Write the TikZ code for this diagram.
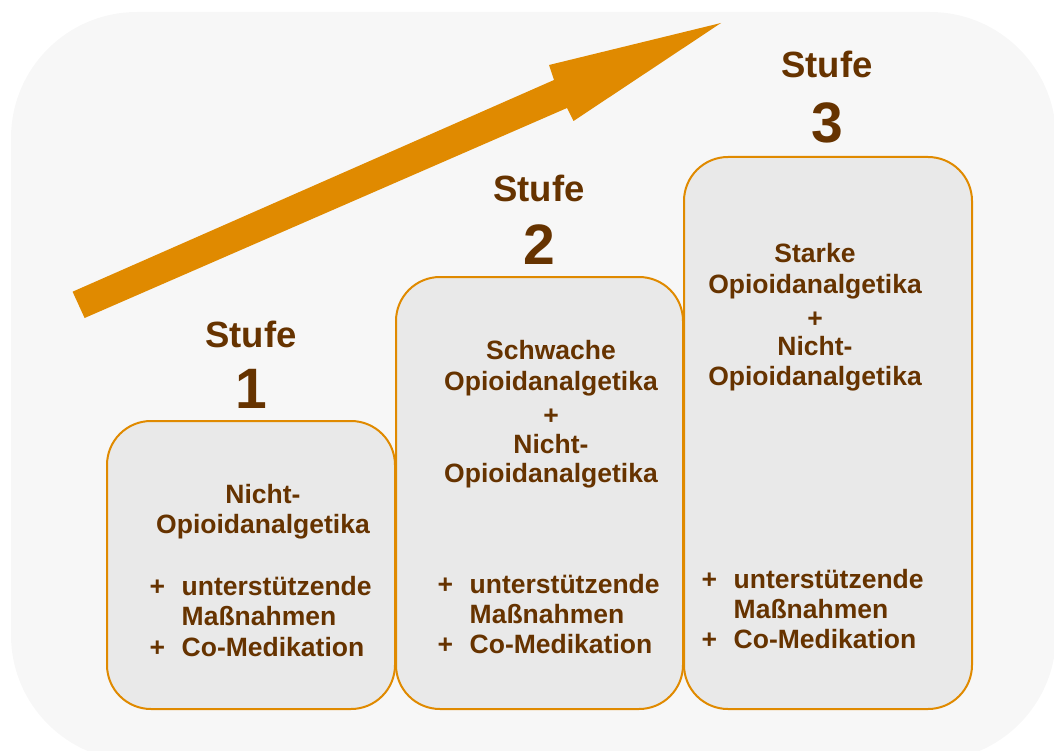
\documentclass[tikz,border=0pt]{standalone}
\usepackage{fontspec}
\setmainfont{Liberation Sans}
\definecolor{bgray}{HTML}{F7F7F7}
\definecolor{boxgray}{HTML}{E9E9E9}
\definecolor{orng}{HTML}{E08A00}
\definecolor{brwn}{HTML}{663300}
\tikzset{
  stepbox/.style={draw=orng, line width=2pt, fill=boxgray, rounded corners=44pt, inner sep=0pt},
  txt/.style={font=\fontsize{26.5}{31}\selectfont\bfseries, text=brwn, inner sep=0pt, anchor=base},
  ltxt/.style={txt, anchor=base west},
  stufe/.style={font=\fontsize{36.5}{40}\selectfont\bfseries, text=brwn, inner sep=0pt, anchor=base},
  num/.style={font=\fontsize{57}{60}\selectfont\bfseries, text=brwn, inner sep=0pt, anchor=base}
}
\begin{document}
\begin{tikzpicture}[x=1pt,y=-1pt]
\useasboundingbox (0,0) rectangle (1054,751);
% background
\fill[bgray, rounded corners=126pt] (11,12) rectangle (1056,761);
% arrow
\fill[orng] (72.6,291.7) -- (554,80) -- (549,65) -- (721,23) -- (573.5,121) -- (567,108) -- (84.6,318) -- cycle;
% boxes
\node[stepbox, minimum width=288pt, minimum height=288pt] (b1) at (251,565) {};
\node[stepbox, minimum width=287pt, minimum height=432pt] (b2) at (539.5,493) {};
\node[stepbox, minimum width=288pt, minimum height=552pt] (b3) at (828,433) {};
% step labels
\node[stufe] (s1) at (251,347) {Stufe};
\node[num] (n1) at (251,408) {1};
\node[stufe] (s2) at (539,202) {Stufe};
\node[num] (n2) at (539,265) {2};
\node[stufe] (s3) at (827,78) {Stufe};
\node[num] (n3) at (827,143) {3};
% box 1 text
\node[txt] (b1a) at (263,503) {Nicht-};
\node[txt] (b1b) at (263,533) {Opioidanalgetika};
\node[ltxt] (b1p1) at (149.5,595) {+};
\node[ltxt] (b1c) at (181.5,595) {unterstützende};
\node[ltxt] (b1d) at (181.5,625) {Maßnahmen};
\node[ltxt] (b1p2) at (149.5,656) {+};
\node[ltxt] (b1e) at (181.5,656) {Co-Medikation};
% box 2 text
\node[txt] (b2a) at (551,359) {Schwache};
\node[txt] (b2b) at (551,390) {Opioidanalgetika};
\node[txt] (b2p) at (551,424) {+};
\node[txt] (b2c) at (551,453) {Nicht-};
\node[txt] (b2d) at (551,482) {Opioidanalgetika};
\node[ltxt] (b2p1) at (437.5,593) {+};
\node[ltxt] (b2e) at (469.5,593) {unterstützende};
\node[ltxt] (b2f) at (469.5,623) {Maßnahmen};
\node[ltxt] (b2p2) at (437.5,653) {+};
\node[ltxt] (b2g) at (469.5,653) {Co-Medikation};
% box 3 text
\node[txt] (b3a) at (815,262) {Starke};
\node[txt] (b3b) at (815,293) {Opioidanalgetika};
\node[txt] (b3p) at (815,327) {+};
\node[txt] (b3c) at (815,355) {Nicht-};
\node[txt] (b3d) at (815,385) {Opioidanalgetika};
\node[ltxt] (b3p1) at (701.5,588) {+};
\node[ltxt] (b3e) at (733.5,588) {unterstützende};
\node[ltxt] (b3f) at (733.5,618) {Maßnahmen};
\node[ltxt] (b3p2) at (701.5,648) {+};
\node[ltxt] (b3g) at (733.5,648) {Co-Medikation};
\end{tikzpicture}
\end{document}
